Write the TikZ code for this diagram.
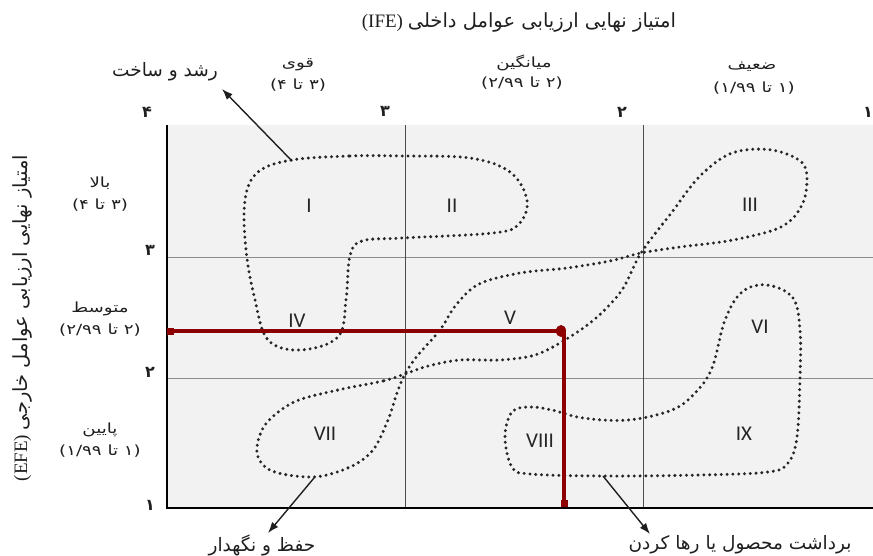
\documentclass[tikz,border=0pt]{standalone}
\usepackage{fontspec}
\usetikzlibrary{arrows.meta}
\TeXXeTstate=1
\setmainfont{Liberation Serif}
\newfontfamily\fa[Script=Arabic]{DejaVu Sans}
\newfontfamily\fawide[Script=Arabic,FakeStretch=1.3]{DejaVu Sans}
\newfontfamily\romfont{Carlito}
\tikzset{
  lbl/.style={inner sep=0pt, text=black!88},
  roman/.style={inner sep=0pt, text=black!85, font=\romfont\fontsize{21}{21}\selectfont},
  dots/.style={draw=black!85, line width=3.3pt, line cap=round, dash pattern=on 0pt off 5.8pt},
  gridv/.style={draw=black!70, line width=0.9pt},
  gridh/.style={draw=black!45, line width=0.9pt},
  axis/.style={draw=black, line width=1.8pt},
  redline/.style={draw=red!55!black, line width=3.6pt},
  pointer/.style={draw=black!88, line width=1.4pt, -{Latex[length=11pt,width=8pt]}},
  small/.style={lbl, font=\fawide\fontsize{14}{15}\selectfont},
  mid/.style={lbl, font=\fa\fontsize{18.5}{20}\selectfont},
  digit/.style={lbl, font=\fa\bfseries\fontsize{16}{17}\selectfont},
}
\begin{document}
\begin{tikzpicture}[x=1pt,y=-1pt]
\useasboundingbox (0,0) rectangle (873,556);
% background of grid
\fill[black!5] (167,125) rectangle (873,508);
% grid lines
\draw[gridh] (167,257) -- (873,257);
\draw[gridh] (167,378) -- (873,378);
\draw[gridv] (405,125) -- (405,508);
\draw[gridv] (643,125) -- (643,508);
% axes
\draw[axis] (167,125) -- (167,508) -- (873,508);

% title
\node[lbl] (title) at (519,22) {\fontsize{19}{21}\selectfont (IFE) {\fa\fontsize{19.5}{21}\selectfont\beginR امتیاز نهایی ارزیابی عوامل داخلی\endR}};
% y title
\node[lbl, rotate=90] (ytitle) at (22,318) {\fontsize{19}{21}\selectfont (EFE) {\fa\fontsize{19.5}{21}\selectfont\beginR امتیاز نهایی ارزیابی عوامل خارجی\endR}};

% column headings
\node[small] (cstrong) at (298,65) {قوی};
\node[small] (cstrongr) at (298,85) {\beginR (۳ تا ۴)\endR};
\node[small] (cavg) at (524,63) {میانگین};
\node[small] (cavgr) at (522,83) {\beginR (۲ تا ۲/۹۹)\endR};
\node[small] (cweak) at (752,67) {ضعیف};
\node[small] (cweakr) at (754,88) {\beginR (۱ تا ۱/۹۹)\endR};
% row headings
\node[small] (rhigh) at (100,183) {بالا};
\node[small] (rhighr) at (100,205) {\beginR (۳ تا ۴)\endR};
\node[small] (rmid) at (100,309) {متوسط};
\node[small] (rmidr) at (100,330) {\beginR (۲ تا ۲/۹۹)\endR};
\node[small] (rlow) at (100,430) {پایین};
\node[small] (rlowr) at (100,451) {\beginR (۱ تا ۱/۹۹)\endR};
% tick digits
\node[digit] (t4) at (147,112) {۴};
\node[digit] (t3) at (385,111) {۳};
\node[digit] (t2) at (622,112) {۲};
\node[digit] (t1) at (868,112) {۱};
\node[digit] (l3) at (150,250) {۳};
\node[digit] (l2) at (150,372) {۲};
\node[digit] (l1) at (150,505) {۱};

% dotted regions
\draw[dots] plot[smooth cycle, tension=0.6] coordinates {
 (292,160) (350,156) (403,156) (470,158) (510,172) (527,200) (519,224) (493,233)
 (403,238) (362,241) (350,256) (346,300) (338,337) (300,350) (268,340) (255,300)
 (246,250) (245,200) (258,172)};
\draw[dots] plot[smooth cycle, tension=0.55] coordinates {
 (405,374) (383,381) (338,390) (294,402) (265,425) (257,453) (272,471) (314,477)
 (350,467) (373,450) (388,420) (397,393) (405,374) (418,355) (440,330) (456,305)
 (479,284) (520,273) (567,268) (610,261) (641,253) (680,247) (733,240) (783,226)
 (804,200) (804,165) (772,150) (732,153) (700,176) (672,212) (641,253) (622,290)
 (596,318) (565,340) (535,355) (500,360) (460,360) (428,366)};
\draw[dots] plot[smooth cycle, tension=0.6] coordinates {
 (767,285) (793,298) (800,330) (800,377) (797,437) (788,463) (768,472) (700,475)
 (606,476) (530,474) (512,467) (505,437) (512,412) (530,407) (552,410) (583,418)
 (628,420) (672,410) (695,393) (712,368) (725,320) (742,292)};

% roman numerals
\node[roman] (nI) at (309,206) {I};
\node[roman] (nII) at (452,206) {II};
\node[roman] (nIII) at (750,205) {III};
\node[roman] (nIV) at (297,321) {IV};
\node[roman] (nV) at (510,318) {V};
\node[roman] (nVI) at (760,327) {VI};
\node[roman] (nVII) at (325,434) {VII};
\node[roman] (nVIII) at (540,441) {VIII};
\node[roman] (nIX) at (744,434) {IX};

% red markers
\coordinate (r0) at (170,331);
\coordinate (rp) at (561,331);
\coordinate (rc) at (564,331);
\coordinate (r1) at (564,503);
\draw[redline] (r0) -- (rp);
\draw[redline] (rc) -- (r1);
\fill[red!55!black] (r0) ++(-3.5,-3.5) rectangle ++(7,7);
\fill[red!55!black] (r1) ++(-3.5,-3.5) rectangle ++(7,7);
\fill[red!55!black] (rp) ellipse (5 and 6);

% strategy labels and pointers
\node[mid] (grow) at (165,72) {\beginR رشد و ساخت\endR};
\node[mid] (hold) at (262,545) {\beginR حفظ و نگهدار\endR};
\node[mid] (harvest) at (740,545) {\beginR برداشت محصول یا رها کردن\endR};
\coordinate (pg) at (292,161);
\coordinate (pgt) at (222,89);
\coordinate (ph) at (314,478);
\coordinate (pht) at (268,533);
\coordinate (pv) at (603,476);
\coordinate (pvt) at (650,534);
\draw[pointer] (pg) -- (pgt);
\draw[pointer] (ph) -- (pht);
\draw[pointer] (pv) -- (pvt);
\end{tikzpicture}
\end{document}
